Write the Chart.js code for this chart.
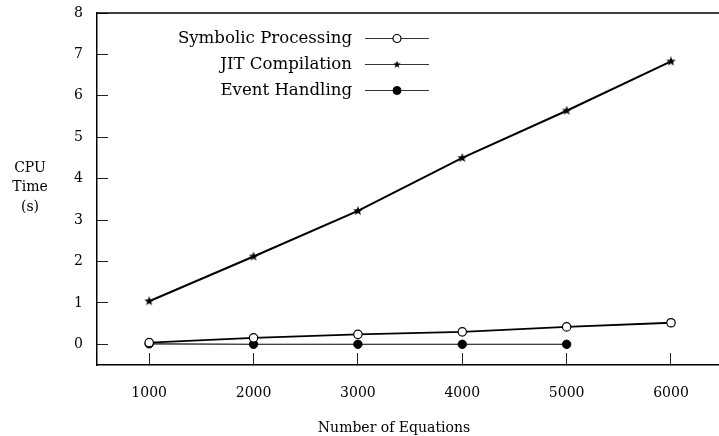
<!DOCTYPE html>
<html>
<head>
<meta charset="utf-8">
<script src="https://cdn.jsdelivr.net/npm/chart.js@4/dist/chart.umd.min.js"></script>
<style>
  html, body { margin: 0; padding: 0; background: #fff; overflow: hidden; }
  #wrap { width: 719px; height: 436px; position: relative; }
</style>
</head>
<body>
<div id="wrap"><canvas id="c" width="719" height="436"></canvas></div>
<script>
// ---- data ----
const equations = [1000, 2000, 3000, 4000, 5000, 6000];
const symbolicProcessing = [0.04, 0.155, 0.24, 0.30, 0.42, 0.52];
const jitCompilation = [1.04, 2.12, 3.22, 4.50, 5.64, 6.83];
const eventHandling = [0.01, 0.0, 0.0, 0.0, 0.0];
const seriesLabels = ['Symbolic Processing', 'JIT Compilation', 'Event Handling'];
const yTickValues = [0, 1, 2, 3, 4, 5, 6, 7, 8];
const xTickValues = [1000, 2000, 3000, 4000, 5000, 6000];
const yTitleLines = ['CPU', 'Time', '(s)'];
const xTitle = 'Number of Equations';

// ---- styles ----
function makeStar(size) {
  const c = document.createElement('canvas');
  c.width = size; c.height = size;
  const g = c.getContext('2d');
  const cx = size / 2, cy = size / 2, ro = size / 2, ri = ro * 0.42;
  g.beginPath();
  for (let i = 0; i < 10; i++) {
    const r = i % 2 === 0 ? ro : ri;
    const a = -Math.PI / 2 + i * Math.PI / 5;
    const px = cx + r * Math.cos(a), py = cy + r * Math.sin(a);
    if (i === 0) g.moveTo(px, py); else g.lineTo(px, py);
  }
  g.closePath();
  g.fillStyle = '#000';
  g.fill();
  return c;
}
const starPlot = makeStar(10);
const starLegend = makeStar(8);

const FONT = 'DejaVu Serif';
Chart.defaults.font.family = FONT;
Chart.defaults.font.size = 14;
Chart.defaults.color = '#000';

const toXY = (ys) => ys.map((v, i) => ({ x: equations[i], y: v }));

const datasets = [
  {
    label: seriesLabels[0],
    data: toXY(symbolicProcessing),
    borderColor: '#000', borderWidth: 1.8,
    pointStyle: 'circle', pointRadius: 4.2,
    pointBackgroundColor: '#fff', pointBorderColor: '#000', pointBorderWidth: 1.2,
    legendStyle: { pointStyle: 'circle', radius: 4, fill: '#fff', stroke: '#000', bw: 1.2 }
  },
  {
    label: seriesLabels[1],
    data: toXY(jitCompilation),
    borderColor: '#000', borderWidth: 2,
    pointStyle: starPlot, pointRadius: 5,
    legendStyle: { pointStyle: starLegend, radius: 4, fill: '#000', stroke: '#000', bw: 0 }
  },
  {
    label: seriesLabels[2],
    data: toXY(eventHandling),
    borderColor: '#000', borderWidth: 1.1,
    pointStyle: 'circle', pointRadius: 4.2,
    pointBackgroundColor: '#000', pointBorderColor: '#000', pointBorderWidth: 1,
    legendStyle: { pointStyle: 'circle', radius: 4, fill: '#000', stroke: '#000', bw: 1 }
  }
];

const decorPlugin = {
  id: 'decor',
  afterDraw(chart) {
    const ctx = chart.ctx;
    const ca = chart.chartArea;
    ctx.save();
    // top frame line
    ctx.strokeStyle = '#000';
    ctx.lineWidth = 1.5;
    ctx.beginPath();
    ctx.moveTo(ca.left - 0.75, ca.top);
    ctx.lineTo(chart.width, ca.top);
    ctx.stroke();
    // legend
    ctx.font = '16.6px "' + FONT + '"';
    ctx.textAlign = 'right';
    ctx.textBaseline = 'middle';
    const rowY = [38.5, 64.5, 90.5];
    const textRight = ca.left + 255;
    const lineL = ca.left + 268, lineR = ca.left + 332;
    chart.data.datasets.forEach((ds, i) => {
      const y = ca.top + rowY[i] - 13;
      ctx.fillStyle = '#000';
      ctx.fillText(ds.label, textRight, y);
      ctx.strokeStyle = '#333';
      ctx.lineWidth = 1.2;
      ctx.beginPath();
      ctx.moveTo(lineL, y); ctx.lineTo(lineR, y);
      ctx.stroke();
      const ls = ds.legendStyle;
      ctx.fillStyle = ls.fill; ctx.strokeStyle = ls.stroke; ctx.lineWidth = ls.bw;
      Chart.helpers.drawPoint(ctx, { pointStyle: ls.pointStyle, radius: ls.radius, rotation: 0, borderWidth: ls.bw }, (lineL + lineR) / 2, y);
    });
    // axis titles
    ctx.font = '14px "' + FONT + '"';
    ctx.fillStyle = '#000';
    ctx.textAlign = 'center';
    ctx.textBaseline = 'middle';
    const yt = [168, 187.5, 207];
    yTitleLines.forEach((t, i) => ctx.fillText(t, 30, yt[i]));
    ctx.fillText(xTitle, 394, 428);
    ctx.restore();
  }
};

new Chart(document.getElementById('c'), {
  type: 'line',
  data: { datasets },
  options: {
    responsive: false,
    animation: false,
    layout: { autoPadding: false, padding: { top: 13, right: 0, left: 0, bottom: 0 } },
    plugins: { legend: { display: false }, tooltip: { enabled: false } },
    elements: { line: { tension: 0 } },
    scales: {
      x: {
        type: 'linear', position: 'bottom', min: 500, max: 6460,
        afterBuildTicks: (s) => { s.ticks = xTickValues.map(v => ({ value: v })); },
        afterFit: (s) => { s.height = 71; s.paddingLeft = 0; s.paddingRight = 0; },
        grid: { drawOnChartArea: false, drawTicks: true, tickLength: -12, color: '#222', lineWidth: 1 },
        border: { display: true, color: '#000', width: 1.5 },
        ticks: { padding: 32, color: '#000', font: { family: FONT, size: 14 }, callback: (v) => String(v) }
      },
      y: {
        type: 'linear', position: 'left', min: -0.5, max: 8,
        afterBuildTicks: (s) => { s.ticks = yTickValues.map(v => ({ value: v })); },
        afterFit: (s) => { s.width = 97; s.paddingTop = 0; s.paddingBottom = 0; },
        grid: { drawOnChartArea: false, drawTicks: true, tickLength: -11, color: '#222', lineWidth: 1 },
        border: { display: true, color: '#000', width: 1.5 },
        ticks: { padding: 25, color: '#000', font: { family: FONT, size: 14 }, callback: (v) => String(v) }
      }
    }
  },
  plugins: [decorPlugin]
});
</script>
</body>
</html>
